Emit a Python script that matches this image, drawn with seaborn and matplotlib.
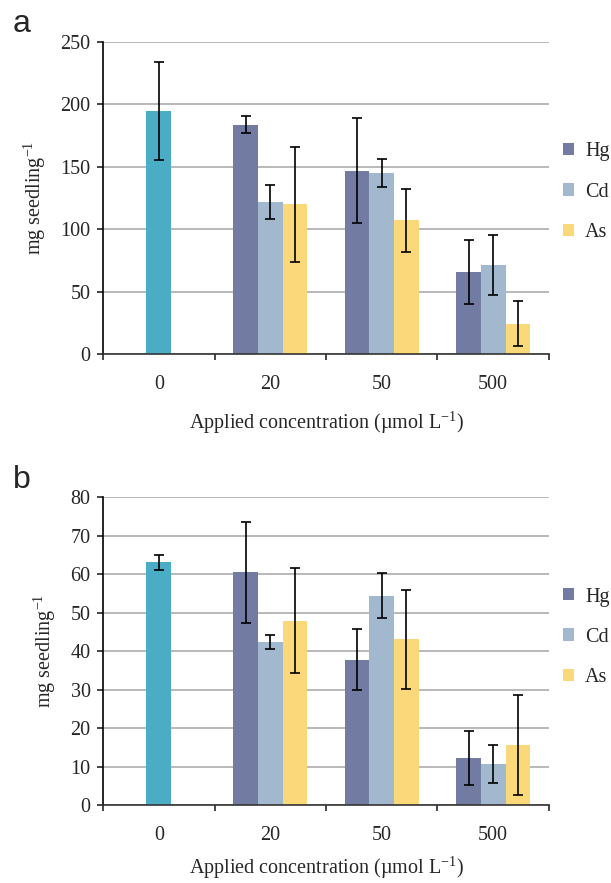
import pandas as pd
import matplotlib
matplotlib.use("Agg")
import matplotlib.pyplot as plt
import seaborn as sns

# concentrations and metals
conc_labels = ["0", "20", "50", "500"]
metals = ["Hg", "Cd", "As"]

# panel a (mg seedling-1)
ctrl_a = 194.5
ctrl_a_err = 39.3
hg_a = [183.7, 146.8, 65.5]
cd_a = [121.9, 145.2, 71.4]
as_a = [120.0, 107.0, 24.3]
hg_a_err = [7.0, 42.2, 25.6]
cd_a_err = [13.6, 11.2, 23.8]
as_a_err = [46.2, 25.4, 18.0]

# panel b (mg seedling-1)
ctrl_b = 63.0
ctrl_b_err = 1.9
hg_b = [60.4, 37.8, 12.1]
cd_b = [42.3, 54.4, 10.6]
as_b = [47.9, 43.0, 15.7]
hg_b_err = [13.0, 8.0, 7.0]
cd_b_err = [1.85, 5.8, 5.0]
as_b_err = [13.6, 12.8, 13.0]

ctrl_color = "#4BACC6"
metal_colors = {"Hg": "#727CA3", "Cd": "#A2B8CF", "As": "#FBD97A"}

sns.set_style("ticks")
plt.rcParams["font.family"] = ["Liberation Serif", "DejaVu Serif"]
plt.rcParams["mathtext.fontset"] = "custom"
plt.rcParams["mathtext.rm"] = "Liberation Serif"

fig = plt.figure(figsize=(6.11, 8.83), dpi=100)
ax_a = fig.add_axes([0.1686, 0.5991, 0.7299, 0.3533])
ax_b = fig.add_axes([0.1686, 0.0883, 0.7299, 0.3488])

bar_w = 0.22
fs = 14.5


def draw_panel(ax, ctrl, ctrl_err, series, errs, ymax, ystep, leg_y, xpad):
    rows = []
    for m, vals, ee in zip(metals, series, errs):
        for c, v, e in zip(conc_labels[1:], vals, ee):
            rows.append({"conc": c, "metal": m, "value": v, "err": e})
    df = pd.DataFrame(rows)
    ctrl_df = pd.DataFrame({"conc": ["0"], "value": [ctrl], "err": [ctrl_err]})

    sns.barplot(data=df, x="conc", y="value", hue="metal", order=conc_labels,
                hue_order=metals, palette=metal_colors, width=bar_w * 3,
                errorbar=None, saturation=1, linewidth=0, ax=ax, zorder=2)
    sns.barplot(data=ctrl_df, x="conc", y="value", order=conc_labels,
                color=ctrl_color, width=bar_w, errorbar=None, saturation=1,
                linewidth=0, ax=ax, zorder=2)

    # error bars (mean +/- sd)
    xs = [conc_labels.index(r.conc) + (metals.index(r.metal) - 1) * bar_w
          for r in df.itertuples()]
    ax.errorbar(xs, df["value"], yerr=df["err"], fmt="none", ecolor="black",
                elinewidth=1.2, capsize=3.3, capthick=1.2, zorder=3)
    ax.errorbar([0], ctrl_df["value"], yerr=ctrl_df["err"], fmt="none",
                ecolor="black", elinewidth=1.2, capsize=3.3, capthick=1.2,
                zorder=3)

    ax.set_xlim(-0.5, 3.5)
    ax.set_ylim(0, ymax)
    ax.set_yticks(range(0, ymax + 1, ystep))
    ax.set_xticks([-0.5, 0.5, 1.5, 2.5, 3.5], minor=True)
    ax.tick_params(axis="x", which="major", length=0, pad=15, labelsize=fs)
    ax.tick_params(axis="x", which="minor", length=4, width=1.2, direction="out")
    ax.tick_params(axis="y", length=4, width=1.2, pad=5, labelsize=fs)
    ax.yaxis.grid(True, color="#A6A6A6", linewidth=1.1)
    ax.set_axisbelow(True)
    for s in ["top", "right"]:
        ax.spines[s].set_visible(False)
    ax.spines["left"].set_linewidth(1.2)
    ax.spines["left"].set_color("black")
    ax.spines["bottom"].set_linewidth(1.2)
    ax.spines["bottom"].set_color("#333333")
    ax.spines["bottom"].set_zorder(4)

    ax.set_xlabel("Applied concentration (µmol L$^{-1}$)", fontsize=fs,
                  labelpad=xpad)
    ax.set_ylabel("mg seedling$^{-1}$", fontsize=fs, labelpad=9)

    sns.move_legend(ax, "center left", bbox_to_anchor=(1.0, leg_y), title=None,
                    frameon=False, fontsize=fs, handlelength=0.55,
                    handleheight=0.55, handletextpad=0.55, labelspacing=1.05,
                    borderaxespad=0.3)


draw_panel(ax_a, ctrl_a, ctrl_a_err, [hg_a, cd_a, as_a],
           [hg_a_err, cd_a_err, as_a_err], 250, 50, 0.519, 11)
draw_panel(ax_b, ctrl_b, ctrl_b_err, [hg_b, cd_b, as_b],
           [hg_b_err, cd_b_err, as_b_err], 80, 10, 0.545, 7)

fig.text(13 / 611, 1 - 32 / 883, "a", fontsize=23, family="Liberation Sans",
         ha="left", va="baseline")
fig.text(13 / 611, 1 - 488 / 883, "b", fontsize=23, family="Liberation Sans",
         ha="left", va="baseline")

fig.savefig("out.png", dpi=100)
